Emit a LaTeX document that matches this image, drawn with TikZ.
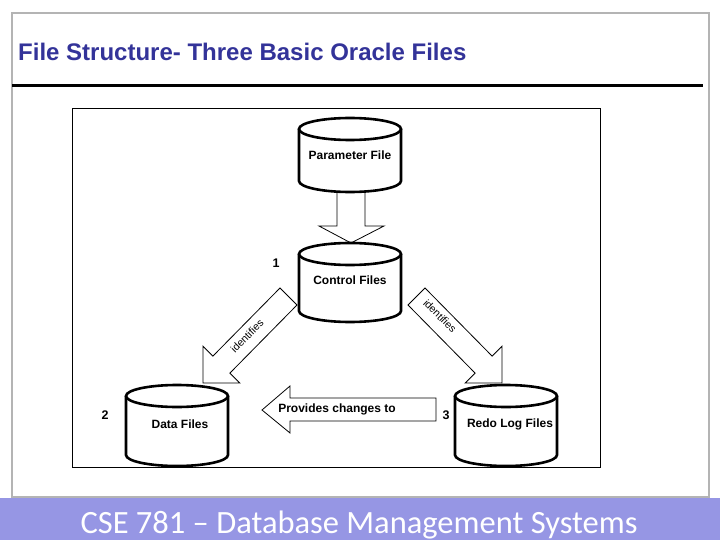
\documentclass[tikz,border=0pt]{standalone}
\usepackage{fontspec}
\setmainfont{Liberation Sans}
\newfontfamily\footfont{Carlito}
\definecolor{titleblue}{RGB}{51,51,153}
\definecolor{footerblue}{RGB}{150,150,228}
\definecolor{bordergray}{RGB}{180,180,180}
\newcommand\mycyl[3]{%
  \draw[cylline] (#1-51,#2) -- (#1-51,#3) arc[start angle=180,end angle=360,x radius=51,y radius=11] -- (#1+51,#2);
  \draw[cylline] (#1,#2) ellipse[x radius=51,y radius=11];
}
\begin{document}
\begin{tikzpicture}[x=1pt,y=1pt,
  cylline/.style={line width=2.6pt,fill=white},
  blockarrow/.style={draw,line width=0.8pt,fill=white,line join=miter},
  lbl/.style={font=\fontsize{12}{14}\selectfont\bfseries,inner sep=0pt},
  numlbl/.style={font=\fontsize{12.5}{14}\selectfont\bfseries,inner sep=0pt},
  idlbl/.style={font=\fontsize{10.5}{12}\selectfont,inner sep=0pt}]
\useasboundingbox (0,0) rectangle (720,-540);
\fill[white] (0,0) rectangle (720,-540);
% footer band
\fill[footerblue] (0,-498) rectangle (720,-540);
\node[font=\footfont\fontsize{32.5}{36}\selectfont,text=white,anchor=base,inner sep=0pt] (footer) at (359,-533) {CSE 781 – Database Management Systems};
% slide border
\draw[bordergray,line width=2pt] (12,-13) rectangle (709,-497);
% title
\node[font=\fontsize{24}{26}\selectfont\bfseries,text=titleblue,anchor=base west,inner sep=0pt] (title) at (18,-61) {File Structure- Three Basic Oracle Files};
\draw[line width=2.4pt] (12,-85.5) -- (703,-85.5);
% diagram frame
\draw[line width=1pt] (72.5,-108.5) rectangle (600.5,-467.5);
% block arrows
\draw[blockarrow] (337,-190) -- (337,-226) -- (319,-226) -- (351,-243) -- (384,-226) -- (365,-226) -- (365,-190);
\draw[blockarrow] (436,-398) -- (290,-398) -- (290,-386) -- (262,-410) -- (290,-433) -- (290,-421) -- (436,-421) -- cycle;
\draw[blockarrow] (297,-305) -- (229.9,-373.1) -- (239.8,-383) -- (203,-383) -- (203,-346.2) -- (212.9,-356.1) -- (280,-288) -- cycle;
\draw[blockarrow] (408,-305) -- (475.1,-373.1) -- (465.2,-383) -- (502,-383) -- (502,-346.2) -- (492.1,-356.1) -- (425,-288) -- cycle;
% cylinders
\mycyl{350}{-129}{-181}
\mycyl{350}{-254}{-311}
\mycyl{177}{-396}{-455}
\mycyl{506}{-396}{-455}
% labels
\node[lbl] (param) at (350,-155) {Parameter File};
\node[lbl] (control) at (350,-280) {Control Files};
\node[lbl] (data) at (180,-424) {Data Files};
\node[lbl] (redo) at (510,-424) {Redo Log Files};
\node[numlbl] (n1) at (276,-263) {1};
\node[numlbl] (n2) at (105,-415) {2};
\node[numlbl] (n3) at (446,-415) {3};
\node[lbl] (provides) at (337,-409) {Provides changes to};
\node[idlbl,rotate=45] (idleft) at (247,-336) {identifies};
\node[idlbl,rotate=-45] (idright) at (440,-316) {identifies};
\end{tikzpicture}
\end{document}
